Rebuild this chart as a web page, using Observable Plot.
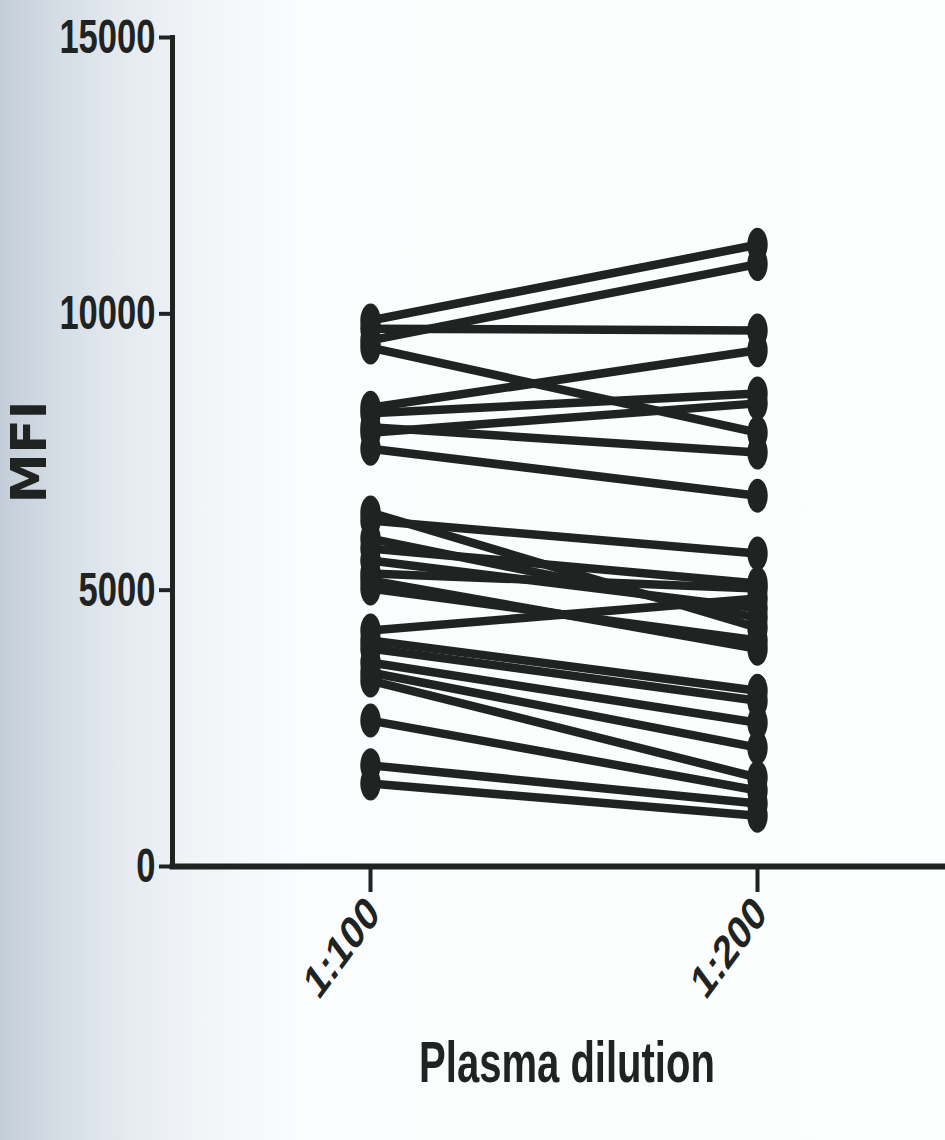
<!DOCTYPE html>
<html>
<head>
<meta charset="utf-8">
<script src="https://cdn.jsdelivr.net/npm/d3@7"></script>
<script src="https://cdn.jsdelivr.net/npm/@observablehq/plot@0.6"></script>
<style>
  html, body { margin: 0; padding: 0; }
  body {
    width: 945px; height: 1140px; overflow: hidden;
    background: linear-gradient(to right, #c4ced8 0px, #d5dde5 60px, #e5ebf0 130px, #f2f5f8 200px, #fafcfd 300px, #fdfefe 945px);
  }
  #chart svg { display: block; }
</style>
</head>
<body>
<div id="chart"></div>
<script>
// Plasma dilutions on the x axis
const dilutions = ["1:100", "1:200"];

// MFI per sample at each dilution (paired by index)
const mfi100 = [
  9880, 9730, 9520, 9390, 8300, 8200, 7850, 7950, 7560,
  6405, 6260, 5934, 5754, 5536, 5301, 5175, 5030, 4270,
  4090, 3944, 3690, 3510, 3365, 2640, 1830, 1500
];
const mfi200 = [
  11250, 9700, 10900, 7850, 9340, 8560, 8380, 7490, 6710,
  4320, 5663, 4500, 5120, 4670, 5030, 3940, 4090, 4850,
  3180, 3000, 2600, 2150, 1610, 1375, 1140, 920
];

// y-axis ticks
const yTicks = [0, 5000, 10000, 15000];

// long table: one row per sample and dilution
const rows = mfi100.flatMap((v, i) => [
  {sample: i, dilution: dilutions[0], mfi: v},
  {sample: i, dilution: dilutions[1], mfi: mfi200[i]}
]);

// tall elliptical marker used for every point
const ellipse = {
  draw(context, size) {
    const ry = Math.sqrt(size / Math.PI);
    const rx = ry * 0.6;
    const k = 0.5523;
    context.moveTo(rx, 0);
    context.bezierCurveTo(rx, ry * k, rx * k, ry, 0, ry);
    context.bezierCurveTo(-rx * k, ry, -rx, ry * k, -rx, 0);
    context.bezierCurveTo(-rx, -ry * k, -rx * k, -ry, 0, -ry);
    context.bezierCurveTo(rx * k, -ry, rx, -ry * k, rx, 0);
    context.closePath();
  }
};

const ink = "#1f2321";

const chart = Plot.plot({
  width: 945,
  height: 1140,
  marginLeft: 172,
  marginRight: 0,
  marginTop: 37,
  marginBottom: 274,
  style: {background: "transparent", color: ink, fontFamily: "'Liberation Sans', Arial, sans-serif", fontWeight: "bold"},
  x: {type: "point", domain: dilutions, range: [370, 757], padding: 0},
  y: {domain: [0, 15000], ticks: yTicks},
  marks: [
    Plot.line(rows, {x: "dilution", y: "mfi", z: "sample", stroke: ink, strokeWidth: 8.5, strokeLinecap: "butt"}),
    Plot.dot(rows, {x: "dilution", y: "mfi", symbol: ellipse, r: 17, fill: ink, stroke: "none"}),
    Plot.frame({anchor: "left", stroke: ink, strokeWidth: 5}),
    Plot.frame({anchor: "bottom", stroke: ink, strokeWidth: 6}),
    Plot.axisY(yTicks, {
      tickSize: 13, strokeWidth: 4, tickPadding: 4, fontSize: 48,
      tickFormat: d3.format("d"),
      label: "MFI", labelAnchor: "center", labelArrow: "none", labelOffset: 162
    }),
    Plot.axisX({
      tickSize: 26, strokeWidth: 4, tickPadding: 13, fontSize: 47, tickRotate: -45,
      label: "Plasma dilution", labelAnchor: "center", labelArrow: "none", labelOffset: 215
    })
  ]
});

document.getElementById("chart").append(chart);

// squeeze a text run horizontally to a condensed face
function condense(selection, factor) {
  selection.each(function () {
    const len = this.getComputedTextLength();
    this.setAttribute("textLength", len * factor);
    this.setAttribute("lengthAdjust", "spacingAndGlyphs");
  });
}

// squeeze a (rotated) label horizontally about its own anchor point
function squeezeX(selection, factor, shift) {
  selection.each(function () {
    const t = this.getAttribute("transform") || "";
    const m = this.transform.baseVal.consolidate();
    const ax = m ? m.matrix.e : 0;
    const ay = m ? m.matrix.f : 0;
    this.setAttribute("transform", `translate(${ax + shift},${ay}) scale(${factor},1) translate(${-ax},${-ay}) ${t}`);
  });
}

const svg = d3.select(chart);
condense(svg.selectAll('g[aria-label="y-axis tick label"] text'), 0.72);
squeezeX(svg.selectAll('g[aria-label="x-axis tick label"] text'), 0.74, 3);

svg.selectAll('g[aria-label="y-axis label"] text')
  .style("font-family", "'DejaVu Sans', sans-serif")
  .style("font-size", "50px")
  .style("font-weight", "bold");

const title = svg.selectAll('g[aria-label="x-axis label"] text')
  .style("font-size", "58px")
  .style("font-weight", "bold")
  .attr("dx", 8);
condense(title, 0.69);
</script>
</body>
</html>
